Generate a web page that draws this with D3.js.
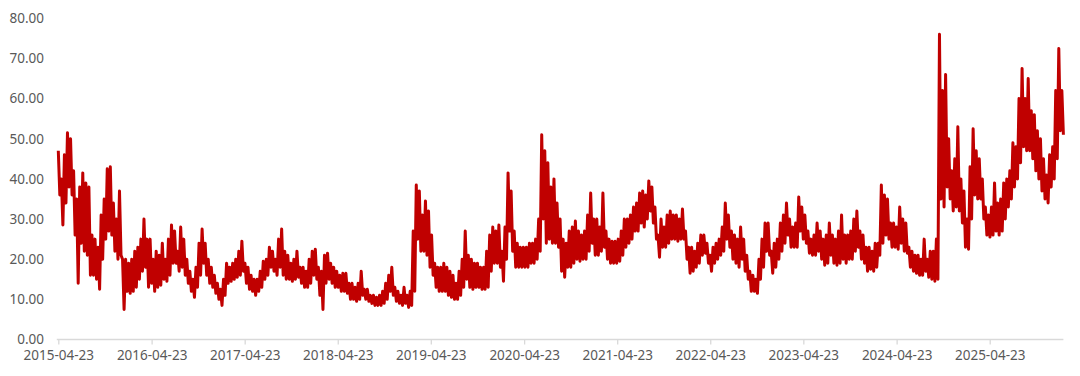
<!DOCTYPE html>
<html>
<head>
<meta charset="utf-8">
<script src="https://cdn.jsdelivr.net/npm/d3@7"></script>
<style>
  html, body { margin: 0; padding: 0; background: #ffffff; }
  svg { display: block; }
  .tick text { font-family: "Noto Sans", "Open Sans", sans-serif; font-size: 13.5px; fill: #595959; }
</style>
</head>
<body>
<svg id="chart" width="1080" height="376"></svg>
<script>
// ---- data ----
// one value every 6 calendar days, read as the upper and lower edge of the daily band
const startDate = "2015-04-23";
const stepDays = 6;
const values = [
  47,36, 40,28.5, 46,34, 51.5,38, 50,36, 42,26, 35,14, 38,24, 41.5,22, 39,21,
  38,16, 26,16, 25,15, 23,12.5, 31,20, 35,25, 42.5,27, 43,26, 34,22, 30,20,
  37,21, 20,7.5, 20,12, 19,11.5, 20,12, 22,13, 23,15, 25,17, 30,18, 25,13,
  25,14, 20,12, 22,13, 21,13.5, 24,15, 20,14.5, 25,16, 28.5,19, 27,19, 22,17,
  28,18, 25,16, 20,14, 17,12, 15,10.5, 18,13, 24,16, 27.5,19, 24,16, 20,14,
  18,13, 16,11.5, 14,10, 12.5,8.5, 15,11, 19,14, 18,14.5, 19,15, 20,15.5, 22,16,
  24.5,17, 19,14, 18,12.5, 16,12, 15,11, 15,12, 17,13, 19.5,15, 20,16, 23,18,
  22,17, 20,16, 25,18, 27.5,16, 22,15, 21,15, 19,14.5, 20,15, 22,15.5, 18,14,
  18,13, 17,13, 20,14, 22,16, 22.5,15, 18,11, 17,7.5, 21,14, 21.5,15, 19,14,
  18,13, 17,13, 16,12, 16.5,12, 16.5,11.5, 14,10, 14,10, 13,9.5, 14,10, 17,11,
  12.5,10, 12.5,9.5, 11,9, 11,8.5, 10.5,8.5, 11,8.5, 12,9, 14,10, 16,12, 18,11,
  13,9.5, 12,9, 11,8.5, 13,9, 11,8, 12,8.5, 27,12, 38.5,25, 37,22, 31,22,
  34.5,21, 32,18, 26,16, 19,13, 18,12, 18,12, 19,12, 18,11, 17,10.5, 16,10,
  14,10, 17,11, 20,13, 27,15, 21,13, 20,12.5, 19,13, 19,13, 18,12.5, 18,12.5,
  22,13, 26,17, 28,19, 27,19, 28.5,18, 22,14.5, 28,20, 41.5,27, 37,22, 27,18,
  24,18, 23,18, 23,18, 23,18, 24,19, 24,19, 25,20, 30,22, 51,30, 47,24,
  44,25, 38,24, 40,24, 34,23, 30,17, 25,15.5, 24,18, 27,18, 28,19, 29.5,20,
  27,19.5, 26,20, 27,20, 31,22, 36.5,24, 30,21, 30,21, 28,22, 36.5,23, 27,20,
  25,19, 24.5,19, 24.5,19, 25,19.5, 27,21, 30,23, 30,24, 31,25, 33,27, 34,27,
  36.5,29, 37,28, 36,30, 39.5,32, 38,29, 33,25, 26,20.5, 30,23, 28,23, 31,24,
  32,25, 31,25, 31,24.5, 30,25, 32.5,25, 27,20, 23,16.5, 23,17, 22,18, 24,19,
  26,21, 26,21.5, 24,19, 21,17, 23,19, 24,20, 25,21, 28,22, 34,25, 31,23,
  27,20, 26,19, 25,18, 28,20, 25,17, 21,15, 17,12, 16,12, 15,11.5, 20,15,
  25,18, 29,22, 29,21, 22,16.5, 24,18, 25,20, 29,22, 31,24, 34,26, 30,23,
  28,23, 29,23, 35.5,27, 33,25, 31,24, 27,21.5, 25,21, 26,21, 29,22, 27,20,
  25,18.5, 26,19, 29,21, 26,19, 25,18.5, 27,19, 31,20, 26,19, 26,20, 27,20,
  30,22, 32,23, 27,20, 26,19, 23,17, 23,17.5, 22,17, 24,18, 24,21, 38.5,24,
  36,26, 35,25, 29,23, 29,23, 28,22.5, 33,24, 30,22, 29,21.5, 23,18, 22,17,
  21,16.5, 21,16, 20,16, 25,17, 20,15.5, 22,15, 22,14.5, 25,15, 76,35, 62,33,
  66,38, 50,35, 42,32, 45,33, 53,32, 40,29, 37,23, 30,22.5, 43,30, 52.5,36,
  47,35, 45,35, 40,30, 33,26, 31,25.5, 33,26, 39,27, 34,26, 35,27, 39,30,
  40,33, 42,35, 49,38, 48,40, 60,44, 67.5,48, 60,47, 65,47, 57,45, 56,42,
  52,40, 50,37, 45,35, 41,34, 46,38, 48,40, 62,45, 72.5,52, 62,51
];
const yTicks = [0, 10, 20, 30, 40, 50, 60, 70, 80];
const xTickYears = [2015, 2016, 2017, 2018, 2019, 2020, 2021, 2022, 2023, 2024, 2025];

// ---- build series ----
const parse = d3.utcParse("%Y-%m-%d");
const t0 = parse(startDate);
const series = values.map((v, i) => ({ date: d3.utcDay.offset(t0, i * stepDays), value: v }));
const xTickDates = xTickYears.map(y => parse(y + "-04-23"));
const tEnd = series[series.length - 1].date;

// ---- layout ----
const svg = d3.select("#chart");
const x = d3.scaleUtc()
  .domain([t0, parse("2025-04-23")])
  .range([58.3, 989.7]);
const y = d3.scaleLinear().domain([0, 80]).range([339.5, 18.3]);

// x axis
const xAxis = d3.axisBottom(x)
  .tickValues(xTickDates)
  .tickFormat(d3.utcFormat("%Y-%m-%d"))
  .tickSize(5)
  .tickSizeOuter(0)
  .tickPadding(6);
const gx = svg.append("g").attr("transform", "translate(0,339.5)").call(xAxis);
gx.select(".domain")
  .attr("d", `M${x(t0) - 1.5},0H${x(tEnd)}`)
  .attr("stroke", "#d9d9d9").attr("stroke-width", 1.3);
gx.selectAll(".tick line").attr("stroke", "#d9d9d9").attr("stroke-width", 1.3);

// y axis (labels only)
const yAxis = d3.axisLeft(y)
  .tickValues(yTicks)
  .tickFormat(d3.format(".2f"))
  .tickSize(0)
  .tickPadding(0);
const gy = svg.append("g").attr("transform", "translate(44,0)").call(yAxis);
gy.select(".domain").remove();

// line
const line = d3.line()
  .x(d => x(d.date))
  .y(d => y(d.value));
svg.append("path")
  .datum(series)
  .attr("fill", "none")
  .attr("stroke", "#C00000")
  .attr("stroke-width", 3)
  .attr("stroke-linejoin", "round")
  .attr("d", line);
</script>
</body>
</html>
